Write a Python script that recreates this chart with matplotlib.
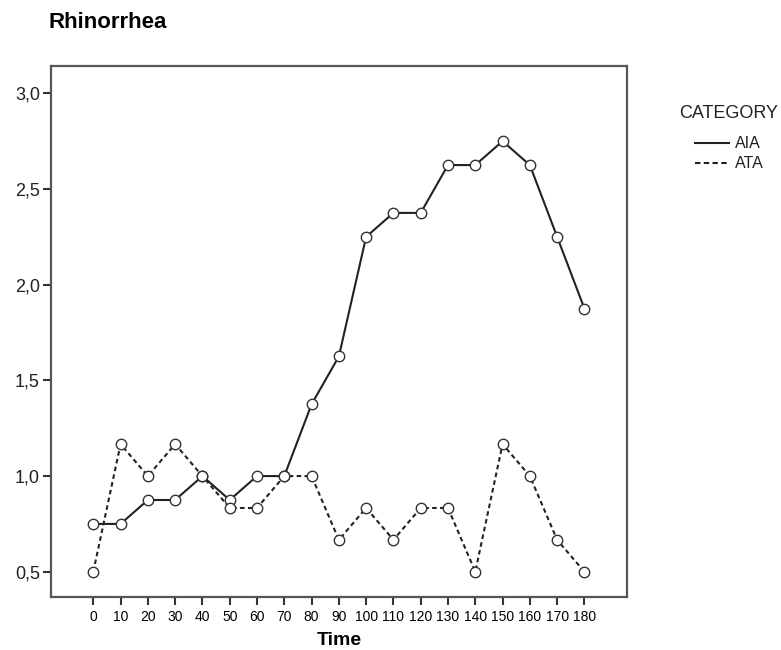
import matplotlib
matplotlib.use("Agg")
import matplotlib.pyplot as plt
from matplotlib.lines import Line2D
from matplotlib.ticker import FuncFormatter

# Mean rhinorrhea score per time point for each category
time = [0, 10, 20, 30, 40, 50, 60, 70, 80, 90, 100, 110, 120, 130, 140, 150, 160, 170, 180]
aia = [0.75, 0.75, 0.875, 0.875, 1.0, 0.875, 1.0, 1.0, 1.375, 1.625, 2.25, 2.375,
       2.375, 2.625, 2.625, 2.75, 2.625, 2.25, 1.875]
ata = [0.5, 1.1667, 1.0, 1.1667, 1.0, 0.8333, 0.8333, 1.0, 1.0, 0.6667, 0.8333, 0.6667,
       0.8333, 0.8333, 0.5, 1.1667, 1.0, 0.6667, 0.5]
y_ticks = [0.5, 1.0, 1.5, 2.0, 2.5, 3.0]
categories = ["AIA", "ATA"]

plt.rcParams['font.family'] = ['Liberation Sans', 'DejaVu Sans']

W, H = 781, 650
fig = plt.figure(figsize=(W / 100, H / 100), dpi=100)
ax = fig.add_axes([0.0653, 0.0815, 0.7375, 0.8162])

solid = "-"
dashed = (0, (2.2, 1.6))
marker_style = dict(marker="o", markersize=7.5, markerfacecolor="white",
                    markeredgecolor="#333333", markeredgewidth=1.0)
ax.plot(time, aia, color="#222222", lw=1.5, linestyle=solid, **marker_style)
ax.plot(time, ata, color="#222222", lw=1.5, linestyle=dashed, **marker_style)

ax.set_xlim(-15.5, 195.6)
ax.set_ylim(0.368, 3.14)
ax.set_xticks(time)
ax.set_yticks(y_ticks)
ax.yaxis.set_major_formatter(FuncFormatter(lambda v, p: f"{v:.1f}".replace(".", ",")))

for lbl in ax.get_xticklabels():
    lbl.set_family(['Liberation Sans Narrow', 'Liberation Sans'])
    lbl.set_fontsize(10)
for lbl in ax.get_yticklabels():
    lbl.set_fontsize(13)
    lbl.set_color("#222222")

ax.tick_params(axis="both", direction="out", length=6, width=1.5, color="#333333")
ax.tick_params(axis="x", pad=3)
ax.tick_params(axis="y", pad=2)
for sp in ax.spines.values():
    sp.set_color("#555555")
    sp.set_linewidth(1.6)

ax.set_xlabel("Time", fontsize=14, fontweight="bold", labelpad=6)
fig.text(48 / W, 1 - 23 / H, "Rhinorrhea", fontsize=16, fontweight="bold",
         ha="left", va="center")

# Legend block to the right of the plot, placed in pixel units
fig.text(679 / W, 1 - 114 / H, "CATEGORY", fontsize=13, ha="left", va="center",
         color="#222222")
for name, style, ypx in zip(categories, [solid, (0, (2.6, 1.6))], [143, 163]):
    fig.add_artist(Line2D([695 / W, 729 / W], [1 - ypx / H, 1 - ypx / H],
                          color="#222222", lw=1.5, linestyle=style))
    fig.text(735 / W, 1 - ypx / H, name, fontsize=11.5, ha="left", va="center",
             color="#222222")

fig.savefig("out.png", dpi=100)
